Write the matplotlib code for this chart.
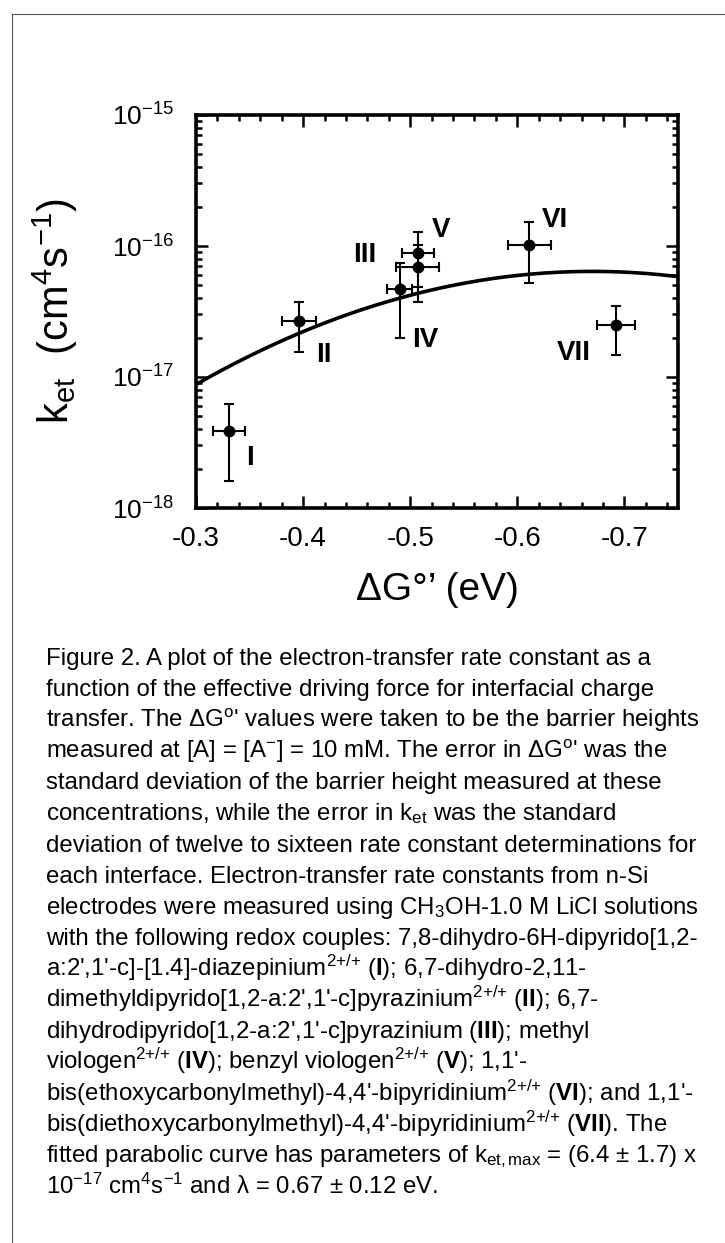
import numpy as np
import matplotlib
matplotlib.use('Agg')
import matplotlib.pyplot as plt
from matplotlib.lines import Line2D
from matplotlib.ticker import FixedLocator, LogLocator, MultipleLocator, NullFormatter, FuncFormatter

plt.rcParams['font.family'] = ['Liberation Sans', 'DejaVu Sans']
plt.rcParams['mathtext.fontset'] = 'custom'
plt.rcParams['mathtext.rm'] = 'Liberation Sans'
plt.rcParams['mathtext.it'] = 'Liberation Sans:italic'
plt.rcParams['mathtext.bf'] = 'Liberation Sans:bold'
plt.rcParams['axes.unicode_minus'] = False

# driving force (eV) and rate constants (cm^4 s^-1) for redox couples I-VII
couples = ['I', 'II', 'III', 'IV', 'V', 'VI', 'VII']
dG = [-0.331, -0.396, -0.490, -0.507, -0.507, -0.611, -0.692]
dG_err = [0.015, 0.016, 0.012, 0.020, 0.015, 0.020, 0.018]
k_et = [3.9e-18, 2.66e-17, 4.67e-17, 6.95e-17, 8.9e-17, 1.02e-16, 2.48e-17]
k_err = [2.3e-18, 1.1e-17, 2.7e-17, 3.2e-17, 4.0e-17, 5.0e-17, 1.0e-17]

# where each roman numeral sits (data coords)
label_x = [-0.350, -0.419, -0.458, -0.514, -0.529, -0.635, -0.653]
label_y = [2.4e-18, 1.47e-17, 8.5e-17, 1.9e-17, 1.32e-16, 1.58e-16, 1.52e-17]

# parabolic (Marcus) fit parameters
ket_max = 6.4e-17
lam = 0.67
kT = 0.0257

xticks = [-0.3, -0.4, -0.5, -0.6, -0.7]
yticks = [1e-18, 1e-17, 1e-16, 1e-15]

W, H = 725, 1243
fig = plt.figure(figsize=(W / 100, H / 100), dpi=100)
ax = fig.add_axes([196 / W, 1 - 508 / H, 482 / W, 393 / H])

dG_fit = np.linspace(-0.3, -0.75, 300)
k_fit = ket_max * np.exp(-(lam + dG_fit) ** 2 / (4 * lam * kT))
ax.plot(dG_fit, k_fit, color='black', lw=2.6)

ax.errorbar(dG, k_et, xerr=dG_err, yerr=k_err, fmt='o', color='black',
            ms=7.5, elinewidth=1.5, capsize=3.5, capthick=1.5)

for lab, lx, ly in zip(couples, label_x, label_y):
    ax.text(lx, ly, lab, fontsize=20, fontweight='bold', ha='center', va='center')

ax.set_yscale('log')
ax.set_ylim(1e-18, 1e-15)
ax.set_xlim(-0.3, -0.75)

ax.xaxis.set_major_locator(FixedLocator(xticks))
ax.xaxis.set_minor_locator(MultipleLocator(0.02))
ax.xaxis.set_major_formatter(FuncFormatter(lambda v, p: '%.1f' % v))
ax.yaxis.set_major_locator(FixedLocator(yticks))
ax.yaxis.set_minor_locator(LogLocator(base=10, subs=np.arange(2, 10), numticks=20))
ax.yaxis.set_minor_formatter(NullFormatter())
ax.yaxis.set_major_formatter(FuncFormatter(
    lambda v, p: r'10$^{\mathregular{%d}}$' % round(np.log10(v))))

for sp in ax.spines.values():
    sp.set_linewidth(2.6)
ax.tick_params(which='both', direction='in', top=True, right=True, width=1.8)
ax.tick_params(which='major', length=8.6)
ax.tick_params(which='minor', length=4.3)
ax.tick_params(axis='x', pad=13, labelsize=20)
ax.tick_params(axis='y', pad=16, labelsize=19)

ax.set_xlabel('\u0394G\u00b0\u2019 (eV)', fontsize=28, labelpad=14)
fig.text(55 / W, 1 - 311 / H, r'k$_{\mathregular{et}}$  (cm$^{\mathregular{4}}$s$^{\mathregular{-1}}$)',
         rotation=90, ha='center', va='center', fontsize=30)


def sup(s):
    return r'$^{\mathregular{' + s + '}}$'


def sub(s):
    return r'$_{\mathregular{' + s + '}}$'


def bold(s):
    return r'$\mathbf{' + s + '}$'


# braces keep mathtext from padding the plus signs
charge = sup('2{+}/{+}')

caption = [
    'Figure 2. A plot of the electron-transfer rate constant as a',
    'function of the effective driving force for interfacial charge',
    'transfer. The \u0394G' + sup('o') + "' values were taken to be the barrier heights",
    'measured at [A] = [A' + sup('-') + '] = 10 mM. The error in \u0394G' + sup('o') + "' was the",
    'standard deviation of the barrier height measured at these',
    'concentrations, while the error in k' + sub('et') + ' was the standard',
    'deviation of twelve to sixteen rate constant determinations for',
    'each interface. Electron-transfer rate constants from n-Si',
    'electrodes were measured using CH' + sub('3') + 'OH-1.0 M LiCl solutions',
    'with the following redox couples: 7,8-dihydro-6H-dipyrido[1,2-',
    "a:2',1'-c]-[1.4]-diazepinium" + charge + ' (' + bold('I') + '); 6,7-dihydro-2,11-',
    "dimethyldipyrido[1,2-a:2',1'-c]pyrazinium" + charge + ' (' + bold('II') + '); 6,7-',
    "dihydrodipyrido[1,2-a:2',1'-c]pyrazinium (" + bold('III') + '); methyl',
    'viologen' + charge + ' (' + bold('IV') + '); benzyl viologen' + charge
    + ' (' + bold('V') + "); 1,1'-",
    "bis(ethoxycarbonylmethyl)-4,4'-bipyridinium" + charge + ' (' + bold('VI')
    + "); and 1,1'-",
    "bis(diethoxycarbonylmethyl)-4,4'-bipyridinium" + charge + ' (' + bold('VII')
    + '). The',
    'fitted parabolic curve has parameters of k' + sub('et,max') + ' = (6.4 \u00b1 1.7) x',
    '10' + sup('-17') + ' cm' + sup('4') + 's' + sup('-1') + ' and \u03bb = 0.67 \u00b1 0.12 eV.',
]
for i, line in enumerate(caption):
    fig.text(46 / W, 1 - (665 + i * 31.1) / H, line, fontsize=17.3,
             ha='left', va='baseline')

# thin frame along the top and left edges
fig.add_artist(Line2D([12 / W, 1], [1 - 14 / H, 1 - 14 / H], transform=fig.transFigure,
                      color='#555555', lw=0.8))
fig.add_artist(Line2D([12 / W, 12 / W], [0, 1 - 14 / H], transform=fig.transFigure,
                      color='#555555', lw=0.8))

fig.savefig('out.png', dpi=100)
